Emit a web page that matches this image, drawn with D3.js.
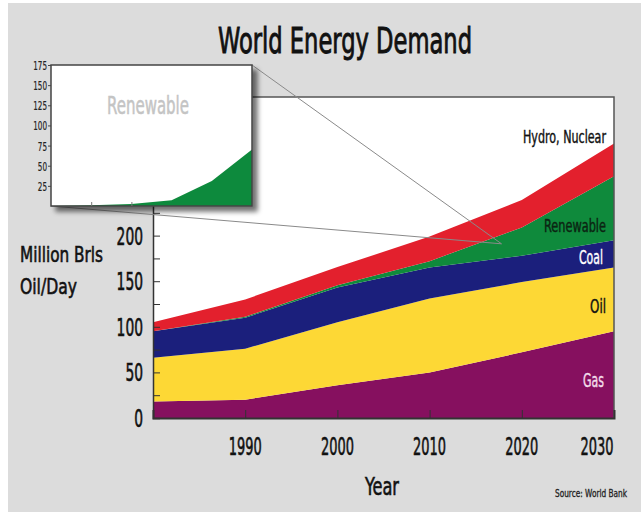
<!DOCTYPE html>
<html><head><meta charset="utf-8">
<script src="https://cdn.jsdelivr.net/npm/d3@7"></script>
<style>
html,body{margin:0;padding:0;background:#fff;}
svg{display:block;}
text{font-family:"Liberation Sans Narrow","DejaVu Sans Condensed","Roboto",sans-serif;}
</style></head>
<body>
<script>
const years = [1980, 1990, 2000, 2010, 2020, 2030];
const gas = [18, 20, 36, 50, 72, 95];
const oil = [48, 56, 69, 81, 77, 70];
const coal = [29, 34, 38, 34, 29, 30];
const renewable = [0, 1, 2.5, 7, 31, 70];
const hydroNuclear = [10, 19, 20, 27, 30, 36];
const seriesNames = ["Gas", "Oil", "Coal", "Renewable", "Hydro, Nuclear"];
const seriesColors = ["#86105f", "#fdd835", "#1b1f7c", "#0f8a3c", "#e3202d"];
const yTickLabels = [0, 50, 100, 150, 200];
const xTickLabels = [1990, 2000, 2010, 2020, 2030];
const insetTickLabels = [25, 50, 75, 100, 125, 150, 175];

const W = 641, H = 512;
const svg = d3.select("body").append("svg").attr("width", W).attr("height", H);
svg.append("rect").attr("x", 8).attr("y", 3).attr("width", W - 8).attr("height", H - 3).attr("fill", "#dcdcdc");

const defs = svg.append("defs");
const f = defs.append("filter").attr("id", "shadow").attr("x", "-10%").attr("y", "-10%").attr("width", "130%").attr("height", "130%");
f.append("feGaussianBlur").attr("in", "SourceAlpha").attr("stdDeviation", 2.5).attr("result", "b");
f.append("feOffset").attr("in", "b").attr("dx", 5).attr("dy", 5).attr("result", "o");
f.append("feComponentTransfer").attr("in", "o").attr("result", "o2").append("feFuncA").attr("type", "linear").attr("slope", 0.55);
const fm = f.append("feMerge");
fm.append("feMergeNode").attr("in", "o2");
fm.append("feMergeNode").attr("in", "SourceGraphic");

function txt(g, x, y, s, size, anchor, len, color, sw) {
  const c = color || "#111";
  const t = g.append("text").attr("x", x).attr("y", y).text(s)
    .attr("font-size", size).attr("text-anchor", anchor || "start")
    .attr("fill", c).attr("stroke", c).attr("stroke-width", sw === undefined ? 0.6 : sw);
  if (len) t.attr("textLength", len).attr("lengthAdjust", "spacingAndGlyphs");
  return t;
}

// Main plot
const x = d3.scaleLinear().domain([1980, 2030]).range([153, 614]);
const y = d3.scaleLinear().domain([0, 352]).range([418, 97]);

svg.append("rect").attr("x", x(1980)).attr("y", y(352)).attr("width", x(2030) - x(1980)).attr("height", y(0) - y(352)).attr("fill", "#fff");

const rows = years.map((yr, i) => ({year: yr, Gas: gas[i], Oil: oil[i], Coal: coal[i], Renewable: renewable[i], "Hydro, Nuclear": hydroNuclear[i]}));
const stack = d3.stack().keys(seriesNames)(rows);
const area = d3.area().x(d => x(d.data.year)).y0(d => y(d[0])).y1(d => y(d[1]));
svg.append("g").selectAll("path").data(stack).join("path")
  .attr("d", area).attr("fill", (d, i) => seriesColors[i]);

// frame
svg.append("path").attr("d", `M${x(1980)},${y(352)}H${x(2030)}V${y(0)}`).attr("fill", "none").attr("stroke", "#555").attr("stroke-width", 1.5);

// axes
const yAxis = d3.axisLeft(y).tickValues(d3.range(25, 351, 25)).tickSize(-7).tickFormat("");
const gy = svg.append("g").attr("transform", `translate(${x(1980)},0)`).call(yAxis);
gy.select(".domain").attr("stroke", "#333").attr("stroke-width", 1.5);
gy.selectAll(".tick line").attr("stroke", "#333").attr("stroke-width", 1);
const xAxis = d3.axisBottom(x).tickValues([1990, 2000, 2010, 2020]).tickSize(-8).tickFormat("");
const gx = svg.append("g").attr("transform", `translate(0,${y(0)})`).call(xAxis);
gx.select(".domain").attr("stroke", "#333").attr("stroke-width", 2);
gx.selectAll(".tick line").attr("stroke", "#333");

yTickLabels.forEach(v => {
  const s = String(v);
  txt(svg, 143, y(v) + 9, s, 25, "end", s.length * 8.8);
});
xTickLabels.forEach(v => {
  txt(svg, x(v) - (v === 2030 ? 17 : 0), 455, String(v), 25, "middle", 33);
});

// series labels
txt(svg, 606, 143, "Hydro, Nuclear", 17, "end", 83, "#111", 0.4);
txt(svg, 606, 232, "Renewable", 17, "end", 62, "#0b2412", 0.4);
txt(svg, 603, 264, "Coal", 19, "end", 24, "#fff", 0.4);
txt(svg, 606, 313, "Oil", 19, "end", 16, "#111", 0.4);
txt(svg, 604, 387, "Gas", 19, "end", 21, "#f3dcea", 0.4);

// Inset
const xi = d3.scaleLinear().domain([1980, 2030]).range([51, 252]);
const yi = d3.scaleLinear().domain([0, 175]).range([206, 65]);
const apex = [x(2017.8), y(191)];

svg.append("line").attr("x1", xi(2030)).attr("y1", yi(175)).attr("x2", apex[0]).attr("y2", apex[1]).attr("stroke", "#8a8a8a").attr("stroke-width", 1);
svg.append("line").attr("x1", xi(1980)).attr("y1", yi(0)).attr("x2", apex[0]).attr("y2", apex[1]).attr("stroke", "#8a8a8a").attr("stroke-width", 1);

const ig = svg.append("g").attr("filter", "url(#shadow)");
ig.append("rect").attr("x", xi(1980)).attr("y", yi(175)).attr("width", xi(2030) - xi(1980)).attr("height", yi(0) - yi(175)).attr("fill", "#fff");
const insetArea = d3.area().x((d, i) => xi(years[i])).y0(yi(0)).y1(d => yi(d));
ig.append("path").datum(renewable).attr("d", insetArea).attr("fill", "#0f8a3c");
ig.append("rect").attr("x", xi(1980)).attr("y", yi(175)).attr("width", xi(2030) - xi(1980)).attr("height", yi(0) - yi(175)).attr("fill", "none").attr("stroke", "#444").attr("stroke-width", 1.5);

const giy = svg.append("g").attr("transform", `translate(${xi(1980)},0)`).call(d3.axisLeft(yi).tickValues(insetTickLabels).tickSize(3).tickFormat(""));
giy.select(".domain").remove();
giy.selectAll(".tick line").attr("stroke", "#444");
const gix = svg.append("g").attr("transform", `translate(0,${yi(0)})`).call(d3.axisBottom(xi).tickValues([1990, 2000]).tickSize(-4).tickFormat(""));
gix.select(".domain").remove();
gix.selectAll(".tick line").attr("stroke", "#777");
insetTickLabels.forEach(v => {
  const s = String(v);
  txt(svg, 47, yi(v) + 5, s, 13, "end", s.length * 4.6, "#222", 0.2);
});
txt(svg, 148, 114, "Renewable", 24, "middle", 82, "#c4c4c4", 0.5);

// Titles
txt(svg, 345, 53, "World Energy Demand", 36, "middle", 254, "#111", 0.9);
txt(svg, 20, 262, "Million Brls", 22, "start", 83, "#111");
txt(svg, 20, 294, "Oil/Day", 22, "start", 57, "#111");
txt(svg, 382, 495, "Year", 25, "middle", 34, "#111");
txt(svg, 627, 497, "Source: World Bank", 11, "end", 72, "#222", 0.3);
</script>
</body></html>
